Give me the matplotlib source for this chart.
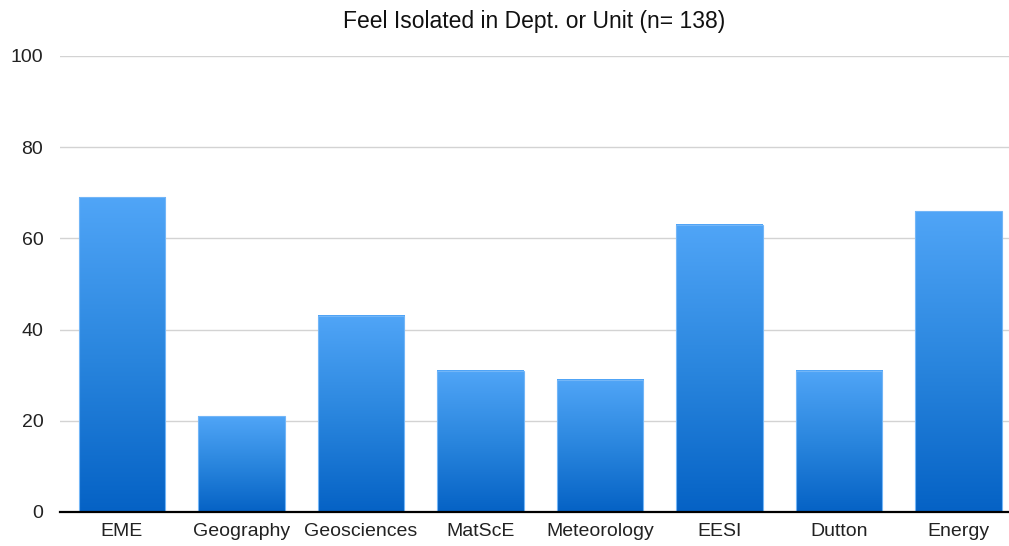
import numpy as np
import matplotlib
matplotlib.use("Agg")
import matplotlib.pyplot as plt
from matplotlib.colors import LinearSegmentedColormap

categories = ["EME", "Geography", "Geosciences", "MatScE", "Meteorology", "EESI", "Dutton", "Energy"]
values = [69, 21, 43, 31, 29, 63, 31, 66]
yticks = [0, 20, 40, 60, 80, 100]
title = "Feel Isolated in Dept. or Unit (n= 138)"

plt.rcParams['font.family'] = ['Liberation Sans', 'DejaVu Sans']

fig = plt.figure(figsize=(10.09, 5.46), dpi=100)
ax = fig.add_axes([60/1009, 1-512/546, 1-60/1009, (512-56)/546])

x = np.arange(len(categories))
width = 0.72
bars = ax.bar(x, values, width=width, color='none', edgecolor='#73b6f7', linewidth=0.8, zorder=3)

cmap = LinearSegmentedColormap.from_list('g', ['#0562c5', '#2a86de', '#50a5f7'])
grad = np.linspace(0, 1, 256).reshape(-1, 1)
for b in bars:
    x0, y0 = b.get_x(), b.get_y()
    w, h = b.get_width(), b.get_height()
    ax.imshow(grad, cmap=cmap, origin='lower', aspect='auto',
              extent=(x0, x0 + w, y0, y0 + h), zorder=2, interpolation='bilinear')

ax.set_xlim(-62/119.5, 7 + (1009-958.5)/119.5)
ax.set_ylim(0, 100)
ax.set_yticks(yticks)
ax.set_xticks(x)
ax.set_xticklabels(categories)
ax.yaxis.grid(True, color='#d3d3d3', linewidth=1.0, zorder=0)
ax.set_axisbelow(True)
for s in ['top', 'right', 'left']:
    ax.spines[s].set_visible(False)
ax.spines['bottom'].set_linewidth(1.6)
ax.spines['bottom'].set_color('black')
ax.spines['bottom'].set_zorder(4)
ax.tick_params(axis='y', length=0, pad=12, labelsize=14, labelcolor='#222222')
ax.tick_params(axis='x', length=0, pad=8, labelsize=14, labelcolor='#222222')
ax.set_title(title, fontsize=16.5, pad=20, color='#111111')

fig.savefig("out.png", dpi=100)
